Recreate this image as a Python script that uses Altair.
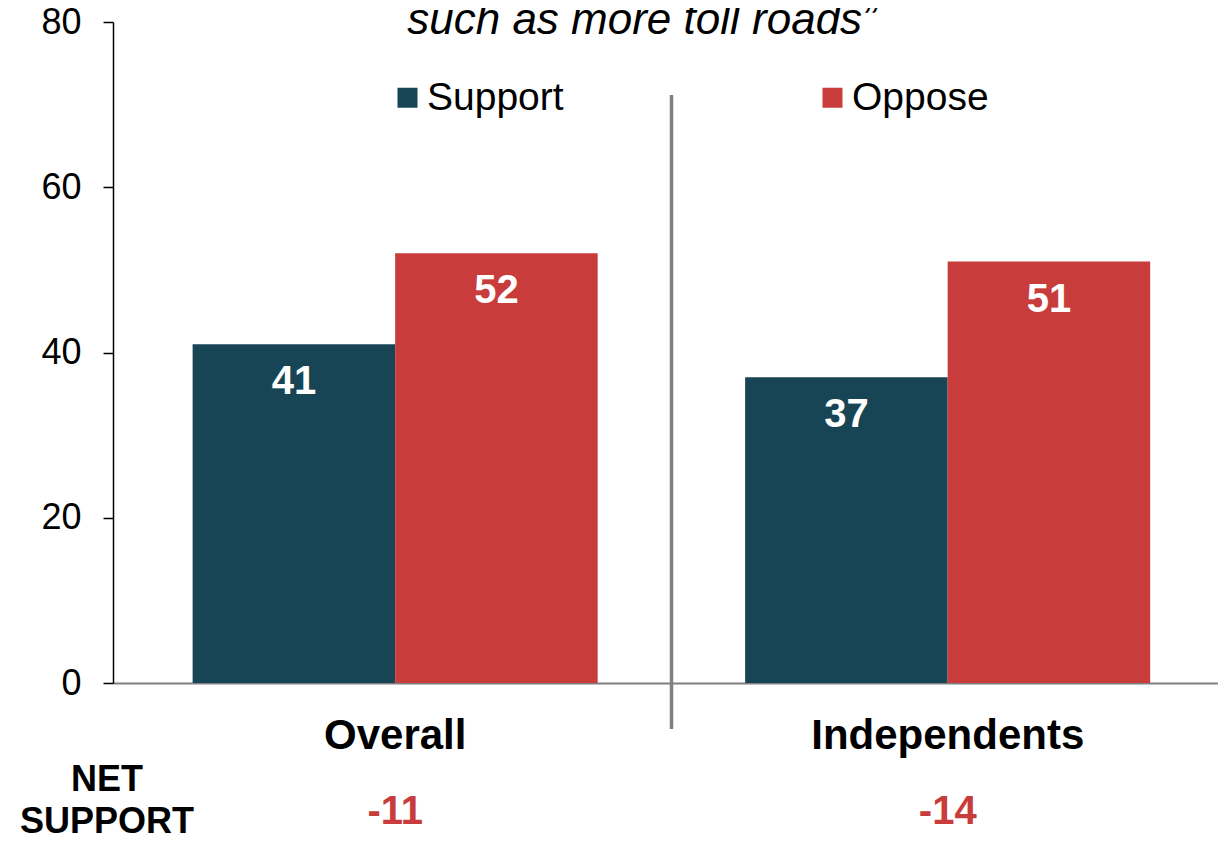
import altair as alt
import pandas as pd

# ---- data ----
categories = ["Overall", "Independents"]
series = ["Support", "Oppose"]
support = [41, 37]
oppose = [52, 51]
y_ticks = [0, 20, 40, 60, 80]
title_line = "such as more toll roads”"
net_label = "NET\nSUPPORT"
colors = ["#174555", "#C83C3C"]

FONT = "Liberation Sans"

rows = []
for i, c in enumerate(categories):
    rows.append({"cat": c, "series": series[0], "value": support[i]})
    rows.append({"cat": c, "series": series[1], "value": oppose[i]})
bars_df = pd.DataFrame(rows)
net_df = pd.DataFrame({"cat": categories,
                       "net": [f"{s - o:d}" for s, o in zip(support, oppose)]})
divider_df = pd.DataFrame({"cat": [categories[1]]})
title_df = pd.DataFrame({"t": [title_line]})
netlab_df = pd.DataFrame({"t": [net_label]})

x_scale = alt.Scale(domain=categories, paddingInner=0, paddingOuter=0)
x_axis = alt.Axis(title=None, labelAngle=0, labelFont=FONT, labelFontSize=42,
                  labelFontWeight="bold", labelColor="black", labelPadding=52,
                  labelBaseline="middle", labelLimit=0, labelOffset=6, ticks=False,
                  domainColor="#808080", domainWidth=2)
X = alt.X("cat:N", sort=categories, scale=x_scale, axis=x_axis)
XO = alt.XOffset("series:N", sort=series,
                 scale=alt.Scale(domain=series, paddingOuter=0.364, paddingInner=0,
                                 align=0.54))
Y = alt.Y("value:Q", scale=alt.Scale(domain=[0, 80], nice=False),
          axis=alt.Axis(values=y_ticks, title=None, grid=False, domainColor="black",
                        domainWidth=1.5, tickColor="black", tickWidth=1.5, tickSize=10,
                        labelPadding=22, labelFontSize=36, labelFont=FONT,
                        labelColor="black"))

bars = alt.Chart(bars_df).mark_bar().encode(
    x=X, xOffset=XO, y=Y,
    color=alt.Color("series:N", sort=series,
                    scale=alt.Scale(domain=series, range=colors),
                    legend=alt.Legend(title=None, orient="none", legendX=275, legendY=56,
                                      direction="horizontal", symbolType="square",
                                      symbolSize=400, symbolStrokeWidth=0,
                                      symbolOpacity=1, labelFont=FONT,
                                      labelFontSize=39, labelColor="black",
                                      labelOffset=0, columnPadding=249, padding=0)),
)

bar_labels = alt.Chart(bars_df).mark_text(
    font=FONT, fontSize=40, fontWeight="bold", color="white",
    baseline="middle", dy=38
).encode(x=X, xOffset=XO, y=Y, text=alt.Text("value:Q"))

net_text = alt.Chart(net_df).mark_text(
    font=FONT, fontSize=40, fontWeight="bold", color=colors[1], baseline="middle",
    dx=6
).encode(x=X, y=alt.value(790), text="net:N")

net_lab = alt.Chart(netlab_df).mark_text(
    font=FONT, fontSize=36, fontWeight="bold", color="black", baseline="middle",
    align="center", lineBreak="\n", lineHeight=42
).encode(x=alt.value(-6), y=alt.value(758), text="t:N")

divider = alt.Chart(divider_df).mark_rule(color="#808080", strokeWidth=3.5,
                                          xOffset=6).encode(
    x=alt.X("cat:N", sort=categories, scale=x_scale, axis=x_axis, bandPosition=0),
    y=alt.value(73), y2=alt.value(707),
)

title = alt.Chart(title_df).mark_text(
    font=FONT, fontSize=44, fontStyle="italic", color="black",
    baseline="alphabetic", align="center"
).encode(x=alt.value(529), y=alt.value(12), text="t:N")

chart = alt.layer(bars, bar_labels, divider, net_text, net_lab, title).properties(
    width=1105, height=661,
    padding={"left": 105, "top": 14, "right": 0, "bottom": 153},
    autosize=alt.AutoSizeParams(type="none"),
    background="white",
).configure_view(stroke=None)

chart.save("out.html", embed_options={"renderer": "svg", "actions": False})
